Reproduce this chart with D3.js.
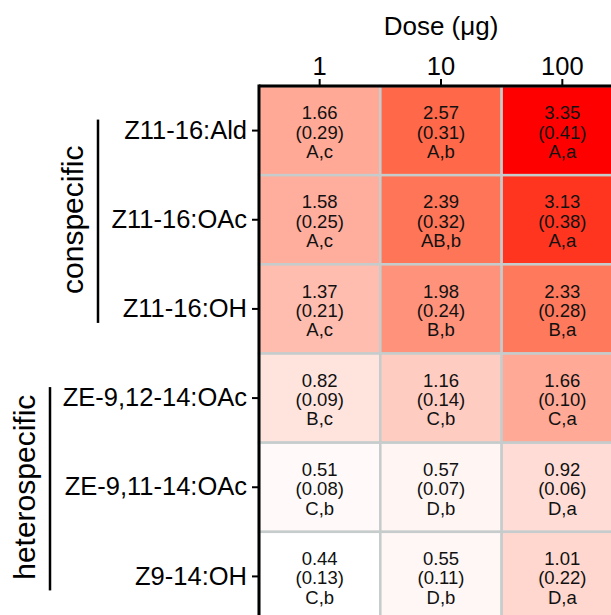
<!DOCTYPE html>
<html>
<head>
<meta charset="utf-8">
<script src="https://cdn.jsdelivr.net/npm/d3@7/dist/d3.min.js"></script>
<style>
  html, body { margin: 0; padding: 0; background: #fff; }
  svg { display: block; font-family: "Liberation Sans", Arial, sans-serif; }
</style>
</head>
<body>
<svg id="chart" width="611" height="615"></svg>
<script>
// Compounds tested (rows) and doses (columns)
const compounds = ["Z11-16:Ald", "Z11-16:OAc", "Z11-16:OH", "ZE-9,12-14:OAc", "ZE-9,11-14:OAc", "Z9-14:OH"];
const doses = ["1", "10", "100"];

// Mean response per compound × dose
const means = [
  [1.66, 2.57, 3.35],
  [1.58, 2.39, 3.13],
  [1.37, 1.98, 2.33],
  [0.82, 1.16, 1.66],
  [0.51, 0.57, 0.92],
  [0.44, 0.55, 1.01]
];
// Standard errors
const ses = [
  [0.29, 0.31, 0.41],
  [0.25, 0.32, 0.38],
  [0.21, 0.24, 0.28],
  [0.09, 0.14, 0.10],
  [0.08, 0.07, 0.06],
  [0.13, 0.11, 0.22]
];
// Significance letters (compound, dose)
const letters = [
  ["A,c", "A,b", "A,a"],
  ["A,c", "AB,b", "A,a"],
  ["A,c", "B,b", "B,a"],
  ["B,c", "C,b", "C,a"],
  ["C,b", "D,b", "D,a"],
  ["C,b", "D,b", "D,a"]
];

// Compound groups
const groupNames = ["conspecific", "heterospecific"];
const groupFirst = ["Z11-16:Ald", "ZE-9,12-14:OAc"];
const groupLast = ["Z11-16:OH", "Z9-14:OH"];

// Colour ramp stops
const colorStops = [0.44, 2.57, 3.13, 3.35];
const colorRange = ["#ffffff", "#ff6848", "#ff3520", "#ff0000"];

const svg = d3.select("#chart");

const x = d3.scaleBand().domain(doses).range([259, 623]);
const y = d3.scaleBand().domain(compounds).range([86, 621]);
const color = d3.scaleLinear().domain(colorStops).range(colorRange).clamp(true);

const cells = [];
compounds.forEach((c, i) => doses.forEach((d, j) => {
  cells.push({ c, d, m: means[i][j], se: ses[i][j], l: letters[i][j] });
}));

const cell = svg.append("g").selectAll("g").data(cells).join("g");

cell.append("rect")
  .attr("x", d => x(d.d))
  .attr("y", d => y(d.c))
  .attr("width", x.bandwidth())
  .attr("height", y.bandwidth())
  .attr("fill", d => color(d.m))
  .attr("stroke", "#c6cccc")
  .attr("stroke-width", 2.5);

const lineGap = 19.3;
const cellText = cell.append("text")
  .attr("text-anchor", "middle")
  .attr("font-size", 18.5)
  .attr("fill", "#111");
[d => d.m.toFixed(2), d => "(" + d.se.toFixed(2) + ")", d => d.l].forEach((fn, k) => {
  cellText.append("tspan")
    .attr("x", d => x(d.d) + x.bandwidth() / 2)
    .attr("y", d => y(d.c) + y.bandwidth() / 2 + 1.5 + (k - 1) * lineGap)
    .attr("dy", "0.35em")
    .text(fn);
});

// Frame on the top and left edges
svg.append("line")
  .attr("x1", x.range()[0]).attr("x2", x.range()[1])
  .attr("y1", y.range()[0]).attr("y2", y.range()[0])
  .attr("stroke", "#000").attr("stroke-width", 3);
svg.append("line")
  .attr("x1", x.range()[0]).attr("x2", x.range()[0])
  .attr("y1", y.range()[0] - 1.5).attr("y2", y.range()[1])
  .attr("stroke", "#000").attr("stroke-width", 3);

// Axes
const xAxis = svg.append("g")
  .attr("transform", `translate(0,${y.range()[0]})`)
  .call(d3.axisTop(x).tickSize(7).tickPadding(4));
xAxis.select(".domain").remove();
xAxis.selectAll(".tick line").attr("stroke-width", 2);
xAxis.selectAll(".tick text").attr("font-size", 25.5).attr("fill", "#000")
  .attr("font-family", "Liberation Sans, Arial, sans-serif");

const yAxis = svg.append("g")
  .attr("transform", `translate(${x.range()[0]},0)`)
  .call(d3.axisLeft(y).tickSize(7).tickPadding(5));
yAxis.select(".domain").remove();
yAxis.selectAll(".tick line").attr("stroke-width", 2);
yAxis.selectAll(".tick text").attr("font-size", 25.5).attr("fill", "#000")
  .attr("font-family", "Liberation Sans, Arial, sans-serif");

// Axis title
svg.append("text")
  .attr("x", (x.range()[0] + x.range()[1]) / 2)
  .attr("y", 35)
  .attr("text-anchor", "middle")
  .attr("font-size", 26)
  .text("Dose (μg)");

// Group brackets and labels
const bracketX = [98, 50];
const labelX = [83, 35];
groupNames.forEach((name, i) => {
  const y0 = y(groupFirst[i]) + y.bandwidth() / 2;
  const y1 = y(groupLast[i]) + y.bandwidth() / 2;
  svg.append("line")
    .attr("x1", bracketX[i]).attr("x2", bracketX[i])
    .attr("y1", y0 - 11).attr("y2", y1 + 14)
    .attr("stroke", "#000").attr("stroke-width", 2.5);
  svg.append("text")
    .attr("transform", `translate(${labelX[i]},${(y0 + y1) / 2}) rotate(-90)`)
    .attr("text-anchor", "middle")
    .attr("font-size", 30)
    .text(name);
});
</script>
</body>
</html>
